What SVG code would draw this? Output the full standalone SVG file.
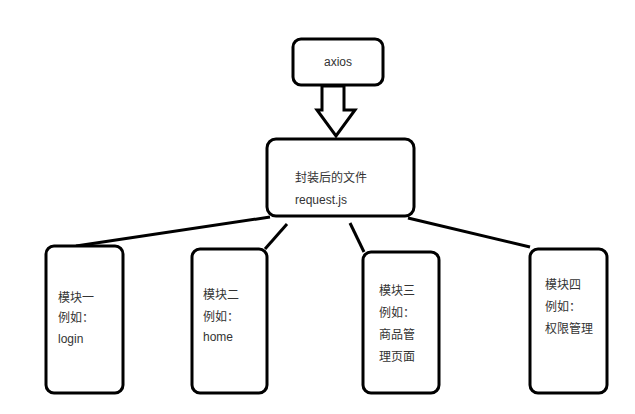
<svg xmlns="http://www.w3.org/2000/svg" width="635" height="414" viewBox="0 0 635 414">
<style>
.box{fill:#fff;stroke:#000;stroke-width:3}
.t{font-family:"Liberation Sans","Noto Sans CJK SC",sans-serif;font-size:12px;fill:#333}
.c{stroke:#000;stroke-width:3;fill:none}
</style>
<rect width="635" height="414" fill="#fff"/>
<g id="connectors">
<line class="c" x1="270" y1="217" x2="76" y2="246"/>
<line class="c" x1="287" y1="224" x2="265" y2="249"/>
<line class="c" x1="350" y1="223" x2="364" y2="252"/>
<line class="c" x1="408" y1="218" x2="530" y2="247"/>
<polygon class="c" points="322,86 344,86 344,110 355,110 336,136 317,110 322,110" fill="#fff"/>
</g>
<g id="axios">
<rect class="box" x="293" y="39" width="90" height="46" rx="8"/>
<text class="t" x="338" y="66" text-anchor="middle">axios</text>
</g>
<g id="request">
<rect class="box" x="267" y="139" width="147" height="77" rx="9"/>
<text class="t" x="295" y="182">封装后的文件</text>
<text class="t" x="295" y="204">request.js</text>
</g>
<g id="module1">
<rect class="box" x="46" y="246" width="77" height="147" rx="8"/>
<text class="t" x="58" y="302">模块一</text>
<text class="t" x="58" y="322">例如：</text>
<text class="t" x="58" y="343">login</text>
</g>
<g id="module2">
<rect class="box" x="192" y="249" width="75" height="144" rx="8"/>
<text class="t" x="203" y="299">模块二</text>
<text class="t" x="203" y="321">例如：</text>
<text class="t" x="203" y="341">home</text>
</g>
<g id="module3">
<rect class="box" x="363" y="252" width="76" height="141" rx="8"/>
<text class="t" x="379" y="295">模块三</text>
<text class="t" x="379" y="317">例如：</text>
<text class="t" x="379" y="339">商品管</text>
<text class="t" x="379" y="361">理页面</text>
</g>
<g id="module4">
<rect class="box" x="530" y="249" width="77" height="144" rx="8"/>
<text class="t" x="545" y="289">模块四</text>
<text class="t" x="545" y="311">例如：</text>
<text class="t" x="545" y="333">权限管理</text>
</g>
</svg>
